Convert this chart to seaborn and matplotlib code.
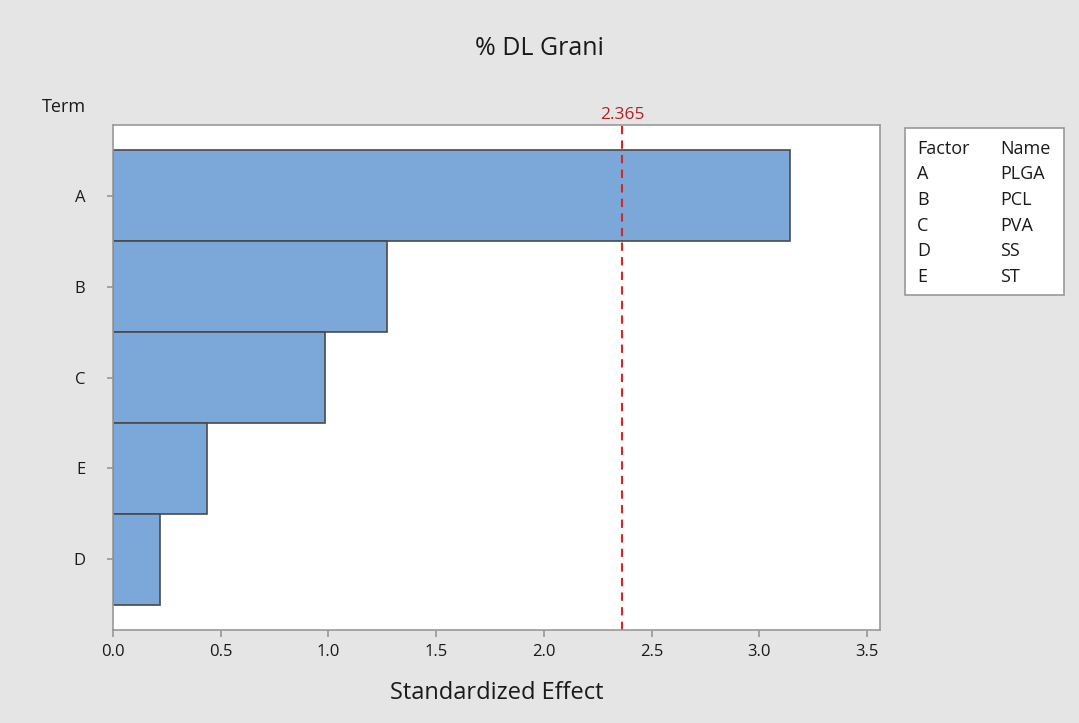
import matplotlib
matplotlib.use("Agg")
import matplotlib.pyplot as plt
import seaborn as sns
import pandas as pd
from matplotlib.patches import Rectangle

terms = ["A", "B", "C", "E", "D"]
effects = [3.143, 1.272, 0.984, 0.436, 0.218]
ref_value = 2.365
xticks = [0.0, 0.5, 1.0, 1.5, 2.0, 2.5, 3.0, 3.5]
factors = ["A", "B", "C", "D", "E"]
names = ["PLGA", "PCL", "PVA", "SS", "ST"]

sns.set_theme(style="white")
plt.rcParams['font.family'] = ['Open Sans', 'DejaVu Sans']

bg = "#e5e5e5"
txt = "#1a1a1a"
fig = plt.figure(figsize=(10.79, 7.23), dpi=100, facecolor=bg)
ax = fig.add_axes([0.1047, 0.1286, 0.7108, 0.6985])
ax.set_facecolor("white")

df = pd.DataFrame({"Term": terms, "Effect": effects})
sns.barplot(data=df, x="Effect", y="Term", order=terms, color="#7ba7d9",
            saturation=1, width=1.0, edgecolor="#4a4a4a", linewidth=1.2, ax=ax)

ax.axvline(ref_value, color="#d62728", linestyle=(0, (4, 3)), linewidth=1.5)
ax.text(ref_value, 1.003, f"{ref_value:.3f}", transform=ax.get_xaxis_transform(),
        ha="center", va="bottom", color="#b22222", fontsize=12.5)

ax.set_xlim(0, 3.56)
ax.set_ylim(4.78, -0.78)
ax.set_xticks(xticks)
ax.set_xticklabels([f"{t:.1f}" for t in xticks], fontsize=12, color=txt)
ax.tick_params(axis="x", length=5, color="#999999", direction="out", bottom=True, pad=5)
ax.tick_params(axis="y", length=4, color="#999999", direction="out", left=True, pad=16, labelsize=12)
for lab in ax.get_yticklabels():
    lab.set_color(txt)
ax.set_xlabel("Standardized Effect", fontsize=17, color=txt, labelpad=15)
ax.set_ylabel("")
for s in ax.spines.values():
    s.set_color("#999999")
    s.set_linewidth(1.2)

fig.text(0.5, 0.933, "% DL Grani", ha="center", va="center", fontsize=18, color=txt)
fig.text(0.039, 0.852, "Term", ha="left", va="center", fontsize=13, color=txt)

# legend box
lx0, ly0, lw, lh = 905/1079, 1 - 295/723, (1064-905)/1079, (295-128)/723
fig.patches.append(Rectangle((lx0, ly0), lw, lh, transform=fig.transFigure,
                             facecolor="white", edgecolor="#999999", linewidth=1.2))
rows_y = [149, 174, 200, 226, 251, 277]
fig.text(917/1079, 1 - rows_y[0]/723, "Factor", ha="left", va="center", fontsize=13, color=txt)
fig.text(1000/1079, 1 - rows_y[0]/723, "Name", ha="left", va="center", fontsize=13, color=txt)
for f, n, yy in zip(factors, names, rows_y[1:]):
    fig.text(917/1079, 1 - yy/723, f, ha="left", va="center", fontsize=13, color=txt)
    fig.text(1000/1079, 1 - yy/723, n, ha="left", va="center", fontsize=13, color=txt)

fig.savefig("out.png", dpi=100, facecolor=bg)
